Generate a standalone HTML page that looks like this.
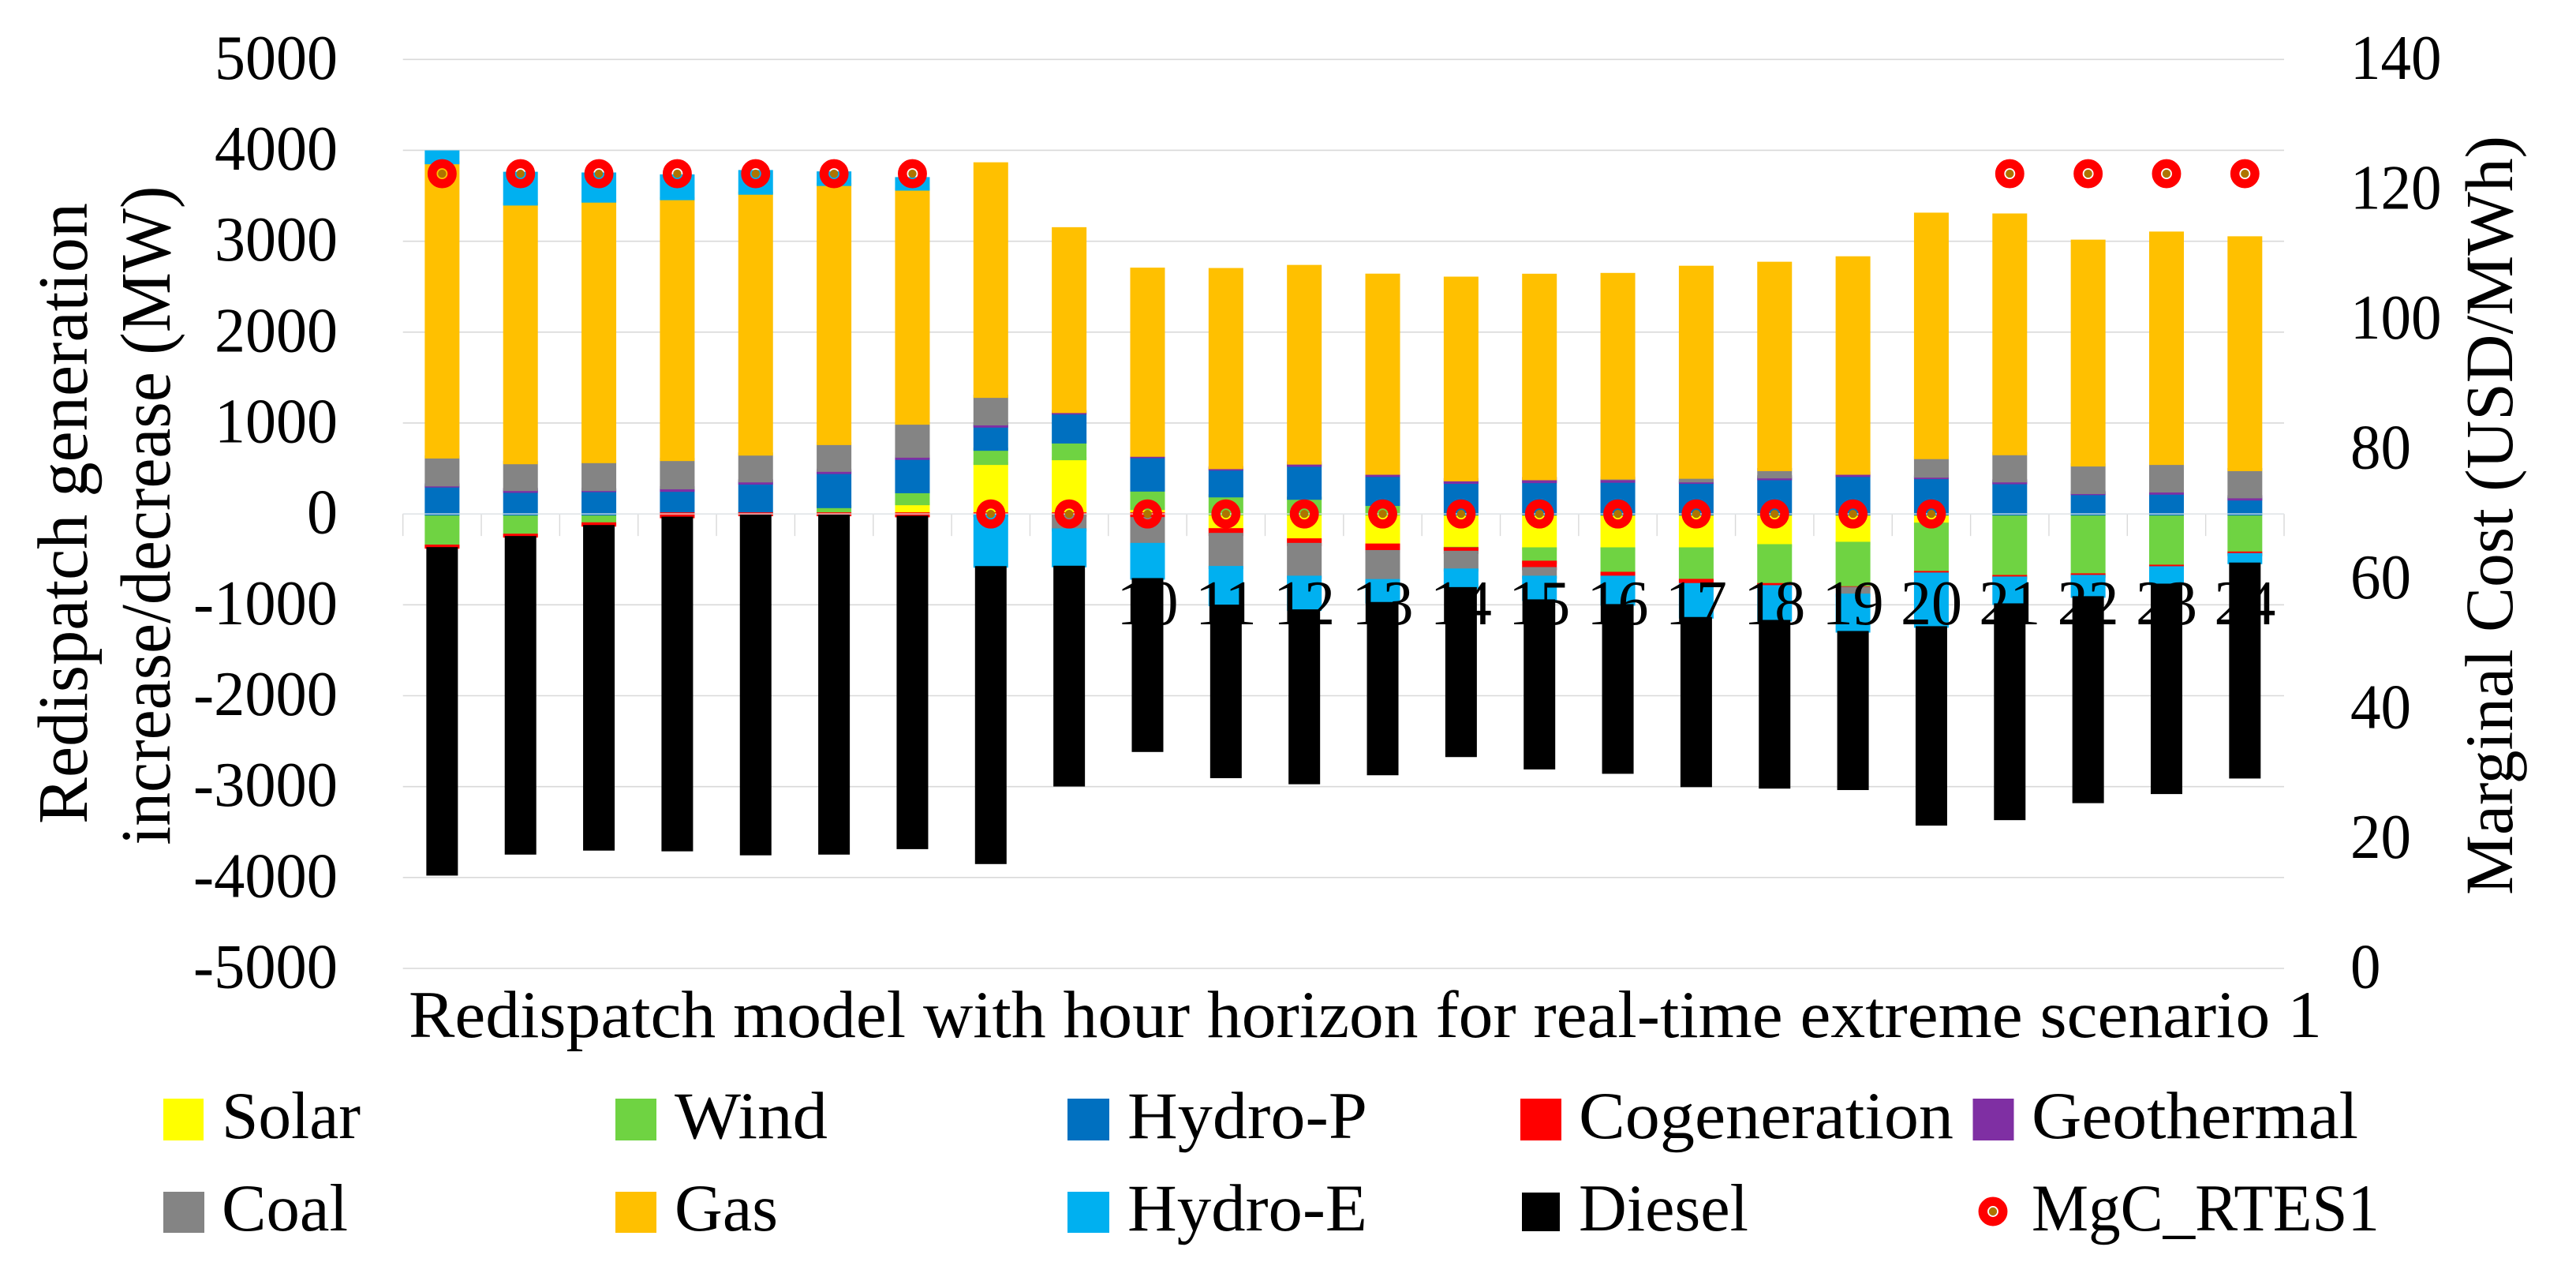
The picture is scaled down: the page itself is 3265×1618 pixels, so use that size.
<!DOCTYPE html>
<html lang="en">
<head>
<meta charset="utf-8">
<title>Redispatch model chart</title>
<style>
html,body{margin:0;padding:0;background:#fff;width:3265px;height:1618px;overflow:hidden}
svg{display:block}
text{font-family:"Liberation Serif",serif;fill:#000}
</style>
</head>
<body>
<svg id="chart" xmlns="http://www.w3.org/2000/svg" width="3265" height="1618" viewBox="0 0 3265 1618">
  <rect x="0" y="0" width="3265" height="1618" fill="#fff"/>
  <g id="grid"></g>
  <g id="ticks"></g>
  <g id="bars"></g>
  <g id="axisline"></g>
  <g id="markers"></g>
  <g id="catlabels"></g>
  <g id="leftlabels"></g>
  <g id="rightlabels"></g>

  <text transform="translate(110 1044) rotate(-90)" font-size="90" textLength="787" lengthAdjust="spacingAndGlyphs">Redispatch generation</text>
  <text transform="translate(215 1070.6) rotate(-90)" font-size="90" textLength="835" lengthAdjust="spacingAndGlyphs">increase/decrease (MW)</text>
  <text transform="translate(3184 1134) rotate(-90)" font-size="86" textLength="962" lengthAdjust="spacingAndGlyphs">Marginal Cost (USD/MWh)</text>
  <text x="518" y="1314" font-size="85" textLength="2425" lengthAdjust="spacingAndGlyphs">Redispatch model with hour horizon for real-time extreme scenario 1</text>

  <g>
    <g>
      <rect x="207" y="1392" width="51" height="53" fill="#FFFF00"/>
      <text x="281" y="1442" font-size="85" textLength="176" lengthAdjust="spacingAndGlyphs">Solar</text>
    </g>
    <g>
      <rect x="780" y="1392" width="52" height="53" fill="#6FD342"/>
      <text x="855" y="1442" font-size="85" textLength="194" lengthAdjust="spacingAndGlyphs">Wind</text>
    </g>
    <g>
      <rect x="1353" y="1392" width="53" height="53" fill="#0070C0"/>
      <text x="1429" y="1442" font-size="85" textLength="304" lengthAdjust="spacingAndGlyphs">Hydro-P</text>
    </g>
    <g>
      <rect x="1927" y="1392" width="52" height="53" fill="#FF0000"/>
      <text x="2001" y="1442" font-size="85" textLength="475" lengthAdjust="spacingAndGlyphs">Cogeneration</text>
    </g>
    <g>
      <rect x="2500.5" y="1392" width="52" height="53" fill="#7F2FA3"/>
      <text x="2575" y="1442" font-size="85" textLength="414" lengthAdjust="spacingAndGlyphs">Geothermal</text>
    </g>
    <g>
      <rect x="207" y="1510" width="52" height="52" fill="#848484"/>
      <text x="281" y="1559" font-size="85" textLength="160" lengthAdjust="spacingAndGlyphs">Coal</text>
    </g>
    <g>
      <rect x="780" y="1510" width="52" height="52" fill="#FFC000"/>
      <text x="855" y="1559" font-size="85" textLength="131" lengthAdjust="spacingAndGlyphs">Gas</text>
    </g>
    <g>
      <rect x="1353" y="1510" width="53" height="52" fill="#00B0F0"/>
      <text x="1429" y="1559" font-size="85" textLength="304" lengthAdjust="spacingAndGlyphs">Hydro-E</text>
    </g>
    <g>
      <rect x="1929" y="1511" width="48" height="49" fill="#000"/>
      <text x="2001" y="1559" font-size="85" textLength="215" lengthAdjust="spacingAndGlyphs">Diesel</text>
    </g>
    <g>
      <circle cx="2526" cy="1535" r="12.7" fill="none" stroke="#FF0000" stroke-width="11.5"/>
      <circle cx="2526" cy="1535" r="5.2" fill="#AE7400"/>
      <text x="2575" y="1559" font-size="85" textLength="441" lengthAdjust="spacingAndGlyphs">MgC_RTES1</text>
    </g>
  </g>
</svg>
<script>
const hours = ["1","2","3","4","5","6","7","8","9","10","11","12","13","14","15","16","17","18","19","20","21","22","23","24"];
const leftTicks = [5000,4000,3000,2000,1000,0,-1000,-2000,-3000,-4000,-5000];
const rightTicks = [140,120,100,80,60,40,20,0];

const solar = [0,0,0,0,0,0,113,556,608,60,-174,-286,-343,-379,-385,-385,-385,-350,-324,-113,0,0,0,0];
const wind = [-355,-235,-110,0,10,81,132,156,184,203,199,173,105,-5,-147,-269,-347,-428,-489,-532,-689,-671,-576,-431];
const hydroP = [308,249,257,260,330,375,367,255,319,367,295,363,319,348,356,360,348,388,424,400,344,224,229,165];
const cogeneration = [-10,-8,-12,-30,-8,-8,-20,-17,-17,-52,-52,-50,-72,-39,-70,-43,-46,-23,-6,-17,-17,-17,-17,-17];
const geothermal = [12,20,12,28,24,24,24,24,16,16,16,24,24,28,32,28,16,20,24,16,20,12,24,24];
const coal = [307,295,307,311,295,295,363,303,-159,-284,-364,-361,-319,-195,-95,8,40,80,-75,204,299,303,303,299];
const gas = [3237,2846,2866,2870,2870,2850,2575,2557,2010,2046,2178,2162,2178,2217,2237,2238,2309,2269,2369,2677,2625,2461,2533,2549];
const hydroE = [118,337,297,249,237,126,114,-557,-394,-370,-408,-353,-235,-187,-243,-295,-356,-365,-394,-573,-278,-217,-174,-87];
const diesel = [-3614,-3505,-3582,-3682,-3748,-3740,-3668,-3278,-2429,-1913,-1909,-1924,-1906,-1870,-1871,-1867,-1872,-1856,-1750,-2194,-2385,-2277,-2315,-2376];
const marginalCost = [122.4,122.4,122.4,122.4,122.4,122.4,122.4,70,70,70,70,70,70,70,70,70,70,70,70,70,122.4,122.4,122.4,122.4];

const series = [
  {key:'solar', values:solar, color:'#FFFF00', outline:true},
  {key:'wind', values:wind, color:'#6FD342', outline:true},
  {key:'hydro-p', values:hydroP, color:'#0070C0', outline:true},
  {key:'cogeneration', values:cogeneration, color:'#FF0000', outline:true},
  {key:'geothermal', values:geothermal, color:'#7F2FA3', outline:true},
  {key:'coal', values:coal, color:'#848484', outline:true},
  {key:'gas', values:gas, color:'#FFC000', outline:true},
  {key:'hydro-e', values:hydroE, color:'#00B0F0', outline:true},
  {key:'diesel', values:diesel, color:'#000000', outline:false}
];

const plot = {left:510.7, right:2895, top:75.3, bottom:1227};
const NS = 'http://www.w3.org/2000/svg';
function make(tag, attrs){
  const el = document.createElementNS(NS, tag);
  for (const k in attrs) el.setAttribute(k, attrs[k]);
  return el;
}
function yLeft(v){ return plot.top + (5000 - v) * (plot.bottom - plot.top) / 10000; }
function yRight(v){ return plot.bottom - v * (plot.bottom - plot.top) / 140; }
function bandW(){ return (plot.right - plot.left) / hours.length; }
function xCenter(i){ return plot.left + bandW() * (i + 0.5); }
function xEdge(i){ return plot.left + bandW() * i; }
function textWidth(s){
  let w = 0;
  for (const c of String(s)) w += (c === '-') ? 27 : 39;
  return w;
}

const gGrid = document.getElementById('grid');
leftTicks.forEach(function(t){
  if (t === 0) return;
  const l = make('line', {x1:plot.left, x2:plot.right, y1:yLeft(t), y2:yLeft(t), stroke:'#d9d9d9', 'stroke-width':1.6});
  
  
  gGrid.appendChild(l);
});

const gTicks = document.getElementById('ticks');
for (let i = 0; i <= hours.length; i++){
  const tk = make('line', {x1:xEdge(i), x2:xEdge(i), y1:yLeft(0), y2:yLeft(0) + 28, stroke:'#d9d9d9', 'stroke-width':1.4});
  
  
  gTicks.appendChild(tk);
}
const zeroBack = make('line', {x1:plot.left, x2:plot.right, y1:yLeft(0), y2:yLeft(0), stroke:'#d9d9d9', 'stroke-width':1.6});


gTicks.appendChild(zeroBack);

const gBars = document.getElementById('bars');
const posStack = hours.map(function(){ return 0; });
const negStack = hours.map(function(){ return 0; });
series.forEach(function(s){
  s.values.forEach(function(v, i){
    if (!v) return;
    let from, to;
    if (v > 0){ from = posStack[i]; to = from + v; posStack[i] = to; }
    else { from = negStack[i]; to = from + v; negStack[i] = to; }
    const y1 = Math.min(yLeft(from), yLeft(to));
    const y2 = Math.max(yLeft(from), yLeft(to));
    const attrs = {x:xCenter(i) - 20, y:y1, width:40, height:y2 - y1, fill:s.color};
    if (s.outline){ attrs.stroke = s.color; attrs['stroke-width'] = 4; }
    const r = make('rect', attrs);
    
    
    gBars.appendChild(r);
  });
});

const gAxis = document.getElementById('axisline');
const zeroFront = make('line', {x1:plot.left, x2:plot.right, y1:yLeft(0), y2:yLeft(0), stroke:'#e2e8ec', 'stroke-width':1.3});


gAxis.appendChild(zeroFront);

const gMarkers = document.getElementById('markers');
marginalCost.forEach(function(v, i){
  const ring = make('circle', {cx:xCenter(i), cy:yRight(v), r:12.7, fill:'none', stroke:'#FF0000', 'stroke-width':11.5});
  
  
  gMarkers.appendChild(ring);
  const dot = make('circle', {cx:xCenter(i), cy:yRight(v), r:5.2, fill:'#AE7400'});
  
  
  gMarkers.appendChild(dot);
});

const gCat = document.getElementById('catlabels');
hours.forEach(function(h, i){
  const t = make('text', {x:xCenter(i), y:791, 'font-size':81, 'text-anchor':'middle', textLength:textWidth(h), lengthAdjust:'spacingAndGlyphs'});
  t.textContent = h;
  
  
  gCat.appendChild(t);
});

const gLeft = document.getElementById('leftlabels');
leftTicks.forEach(function(v){
  const t = make('text', {x:428, y:yLeft(v) + 24.5, 'font-size':81, 'text-anchor':'end', textLength:textWidth(v), lengthAdjust:'spacingAndGlyphs'});
  t.textContent = String(v);
  
  
  gLeft.appendChild(t);
});

const gRight = document.getElementById('rightlabels');
rightTicks.forEach(function(v){
  const t = make('text', {x:2979, y:yRight(v) + 24.5, 'font-size':81, textLength:String(v).length * 38.5, lengthAdjust:'spacingAndGlyphs'});
  t.textContent = String(v);
  
  
  gRight.appendChild(t);
});
</script>
</body>
</html>
